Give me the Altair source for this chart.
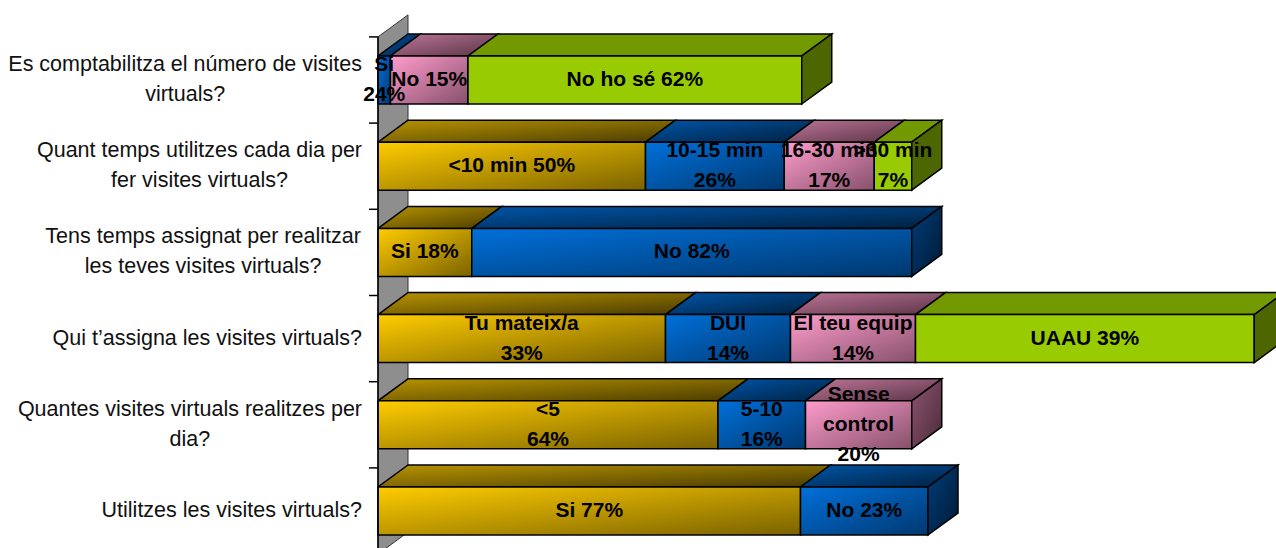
import altair as alt
import pandas as pd

# ---------------- data (top row first) ----------------
questions = [
    "Es comptabilitza el número de visites\nvirtuals?",
    "Quant temps utilitzes cada dia per\nfer visites virtuals?",
    "Tens temps assignat per realitzar\nles teves visites virtuals?",
    "Qui t’assigna les visites virtuals?",
    "Quantes visites virtuals realitzes per\ndia?",
    "Utilitzes les visites virtuals?",
]
# segment lengths (respondents)
seg_values = [
    [1.0, 6.2, 26.7],
    [21.4, 11.1, 7.2, 3.0],
    [7.5, 35.2],
    [23.0, 10.0, 10.0, 27.1],
    [27.2, 7.0, 8.5],
    [33.8, 10.2],
]
seg_labels = [
    ["Si\n24%", "No 15%", "No ho sé 62%"],
    ["<10 min  50%", "10-15 min\n26%", "16-30 min\n17%", ">30 min\n7%"],
    ["Si 18%", "No 82%"],
    ["Tu mateix/a\n33%", "DUI\n14%", "El teu equip\n14%", "UAAU 39%"],
    ["<5\n64%", "5-10\n16%", "Sense\ncontrol\n20%"],
    ["Si 77%", "No 23%"],
]
seg_colors = [
    ["blue", "pink", "green"],
    ["yellow", "blue", "pink", "green"],
    ["yellow", "blue"],
    ["yellow", "blue", "pink", "green"],
    ["yellow", "blue", "pink"],
    ["yellow", "blue"],
]

# ---------------- layout / style ----------------
PX_PER_UNIT = 12.5      # horizontal pixels per respondent
ROW_PX = 86.2           # vertical pixels per question row
W, H = 898, 548
LEFT = 378
DX = 30 / PX_PER_UNIT   # 3D depth, x
DY = 22 / ROW_PX        # 3D depth, y
HALF = 24 / ROW_PX      # half bar height
LINE_PX = 30            # text line height
Y_MIN = -37 / ROW_PX
xs = alt.Scale(domain=[0, W / PX_PER_UNIT], nice=False, zero=False)
ys = alt.Scale(domain=[Y_MIN, Y_MIN + H / ROW_PX], nice=False, zero=False)
FONT = "Liberation Sans"


def grad(c0, c1):
    return {"gradient": "linear", "x1": 0, "y1": 0, "x2": 1, "y2": 1,
            "stops": [{"offset": 0, "color": c0}, {"offset": 1, "color": c1}]}


front_fill = {
    "yellow": grad("#FFCC00", "#7A6200"),
    "blue": grad("#0070DA", "#00386F"),
    "pink": grad("#FF9CCC", "#86506B"),
    "green": "#99CC00",
}
top_fill = {
    "yellow": grad("#B89400", "#4A3B00"),
    "blue": grad("#0055A8", "#00203F"),
    "pink": grad("#BD7598", "#5A3446"),
    "green": "#739900",
}
side_fill = {
    "yellow": grad("#806600", "#3D3100"),
    "blue": grad("#003D7A", "#001A33"),
    "pink": grad("#8E5470", "#4A2A3A"),
    "green": "#4D6600",
}


def block_shift(s):
    # raise a multi-line text so that the whole block is centred on its anchor
    return (s.count("\n") * LINE_PX / 2) / ROW_PX


# ---------------- build faces from the data ----------------
n = len(questions)
fronts, tops, sides = [], [], []
for i, q in enumerate(questions):
    r = n - 1 - i
    start = 0.0
    for j, (v, lab, col) in enumerate(zip(seg_values[i], seg_labels[i], seg_colors[i])):
        end = start + v
        sid = f"{i}-{j}"
        fronts.append(dict(id=sid, color=col, x0=start, x1=end, ylo=r - HALF, yhi=r + HALF,
                           xmid=(start + end) / 2, yt=r + block_shift(lab), label=lab))
        tops.append(dict(id=sid, color=col, y=r + HALF, xa=start, xb=end))
        tops.append(dict(id=sid, color=col, y=r + HALF + DY, xa=start + DX, xb=end + DX))
        if j == len(seg_values[i]) - 1:
            sides.append(dict(id=sid, color=col, x=end, ya=r - HALF, yb=r + HALF))
            sides.append(dict(id=sid, color=col, x=end + DX, ya=r - HALF + DY, yb=r + HALF + DY))
        start = end
fronts = pd.DataFrame(fronts)
tops = pd.DataFrame(tops)
sides = pd.DataFrame(sides)

# category label anchors (centred block whose right edge sits 16px left of the axis)
AW = {' ': 278, 'a': 556, 'b': 556, 'c': 500, 'd': 556, 'e': 556, 'f': 278, 'g': 556,
      'h': 556, 'i': 222, 'j': 222, 'k': 500, 'l': 222, 'm': 833, 'n': 556, 'o': 556,
      'p': 556, 'q': 556, 'r': 333, 's': 500, 't': 278, 'u': 556, 'v': 500, 'w': 722,
      'x': 500, 'y': 500, 'z': 500, 'ú': 556, '?': 556, 'E': 667, 'Q': 778, 'T': 611,
      'U': 722, '’': 222}
CAT_SIZE = 21.5


def text_w(s):
    return max(sum(AW.get(ch, 556) for ch in line) for line in s.split("\n")) / 1000 * CAT_SIZE


cats = pd.DataFrame([
    dict(q=q, yt=n - 1 - i + block_shift(q), xa=-(16 + text_w(q) / 2) / PX_PER_UNIT)
    for i, q in enumerate(questions)
])
bounds = pd.DataFrame({"y": [k - 0.5 for k in range(n + 1)]})
axis_line = pd.DataFrame({"x": [0.0], "ya": [-0.5], "yb": [n - 0.5]})
wall = pd.DataFrame({"x": [0.0, DX], "ya": [-0.5, -0.5 + DY], "yb": [n - 0.5, n - 0.5 + DY]})

# ---------------- layers ----------------
layers = []
layers.append(
    alt.Chart(wall).mark_area(orient="vertical", fill="#8E8E8E", stroke="#333333", strokeWidth=1)
    .encode(x=alt.X("x:Q", scale=xs, axis=None, stack=None),
            y=alt.Y("ya:Q", scale=ys, axis=None), y2="yb:Q")
)
for c in ["yellow", "blue", "pink", "green"]:
    t = tops[tops.color == c]
    if len(t):
        layers.append(
            alt.Chart(t).mark_area(orient="horizontal", fill=top_fill[c], stroke="black",
                                   strokeWidth=1.5, clip=True)
            .encode(y=alt.Y("y:Q", scale=ys, axis=None),
                    x=alt.X("xa:Q", scale=xs, axis=None, stack=None), x2="xb:Q",
                    detail="id:N")
        )
for c in ["yellow", "blue", "pink", "green"]:
    f = fronts[fronts.color == c]
    if len(f):
        layers.append(
            alt.Chart(f).mark_rect(fill=front_fill[c], stroke="black", strokeWidth=1.5)
            .encode(x=alt.X("x0:Q", scale=xs, axis=None), x2="x1:Q",
                    y=alt.Y("ylo:Q", scale=ys, axis=None), y2="yhi:Q")
        )
for c in ["yellow", "blue", "pink", "green"]:
    s = sides[sides.color == c]
    if len(s):
        layers.append(
            alt.Chart(s).mark_area(orient="vertical", fill=side_fill[c], stroke="black",
                                   strokeWidth=1.5, clip=True)
            .encode(x=alt.X("x:Q", scale=xs, axis=None, stack=None),
                    y=alt.Y("ya:Q", scale=ys, axis=None), y2="yb:Q", detail="id:N")
        )
layers.append(
    alt.Chart(axis_line).mark_rule(color="black", strokeWidth=1.5)
    .encode(x=alt.X("x:Q", scale=xs, axis=None), y=alt.Y("ya:Q", scale=ys, axis=None), y2="yb:Q")
)
layers.append(
    alt.Chart(bounds).mark_rule(color="black", strokeWidth=1.5)
    .encode(x=alt.value(-9), x2=alt.value(0), y=alt.Y("y:Q", scale=ys, axis=None))
)
layers.append(
    alt.Chart(fronts).mark_text(font=FONT, fontWeight="bold", fontSize=21, lineBreak="\n",
                                lineHeight=LINE_PX, align="center", baseline="middle",
                                color="black")
    .encode(x=alt.X("xmid:Q", scale=xs, axis=None), y=alt.Y("yt:Q", scale=ys, axis=None),
            text="label:N")
)
layers.append(
    alt.Chart(cats).mark_text(font=FONT, fontSize=CAT_SIZE, lineBreak="\n", lineHeight=LINE_PX,
                              align="center", baseline="middle", color="#111111")
    .encode(x=alt.X("xa:Q", scale=xs, axis=None), y=alt.Y("yt:Q", scale=ys, axis=None),
            text="q:N")
)

chart = (
    alt.layer(*layers)
    .properties(width=W, height=H, autosize=alt.AutoSizeParams(type="none"),
                padding={"left": LEFT, "top": 0, "right": 0, "bottom": 0},
                background="white")
    .configure_view(stroke=None)
)
chart.save("out.html", embed_options={"renderer": "svg", "actions": False})
